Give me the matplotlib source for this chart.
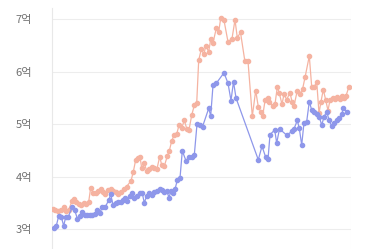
import matplotlib
matplotlib.use("Agg")
import matplotlib.pyplot as plt

# time index (relative position along the x axis) and prices in 억
orange_t = [1.3, 3.6, 6.3, 9, 12.3, 14.6, 17, 20.3, 22.3, 24.6, 27.3, 29.6, 32.3, 34.6, 37,
            39, 41.3, 44, 46.3, 49, 51.3, 53.6, 56.3, 59, 61.3, 64, 66.3, 69, 72.3, 75,
            79.3, 81.6, 84, 86, 88.3, 90, 92.6, 95, 97.3, 100, 102.6, 105.3, 108, 110, 112.6,
            115.6, 117.6, 120, 122.6, 125, 127.3, 130, 132.6, 135.3, 137.3, 140, 142.6, 145,
            147, 149.6, 152.3, 154, 157, 159, 161.3, 164.6, 167, 169, 172.3, 176.3, 180.3,
            183.3, 185.6, 188.8, 193.1, 196.3,
            200.6, 204, 206.6, 209, 211, 213.5, 215.8, 217.6, 221, 223.3, 225.6, 227.6, 230.3,
            232.3, 235, 238.3, 240.3, 242.3, 245.6, 248.3, 251, 253.3, 257.6, 260, 262.3, 265,
            267.3, 269.3, 271.6, 274, 276.3, 278.3, 281, 283.3, 285.6, 288.3, 290.3, 292.3,
            294.3, 297]
orange_v = [3.39, 3.37, 3.34, 3.36, 3.41, 3.34, 3.37, 3.53, 3.57, 3.52, 3.48, 3.46, 3.50, 3.48, 3.52,
            3.79, 3.68, 3.69, 3.73, 3.76, 3.71, 3.67, 3.74, 3.76, 3.72, 3.70, 3.67, 3.70, 3.76, 3.81,
            3.92, 4.09, 4.32, 4.35, 4.38, 4.16, 4.25, 4.11, 4.14, 4.18, 4.16, 4.15, 4.38, 4.22, 4.20,
            4.39, 4.49, 4.68, 4.80, 4.81, 4.98, 4.93, 5.07, 4.90, 4.89, 5.17, 5.36, 5.40,
            6.22, 6.43, 6.33, 6.50, 6.38, 6.62, 6.55, 6.83, 6.76, 7.02, 6.98, 6.57, 6.63, 6.99,
            6.65, 6.75, 6.21, 6.20,
            5.15, 5.64, 5.33, 5.24, 5.16, 5.47, 5.50, 5.43, 5.35, 5.38, 5.71, 5.59, 5.38, 5.57,
            5.47, 5.60, 5.43, 5.35, 5.64, 5.57, 5.68, 5.89, 6.30, 5.71, 5.70, 5.81, 5.21, 5.43,
            5.66, 5.46, 5.26, 5.46, 5.49, 5.48, 5.51, 5.48, 5.54, 5.49, 5.54, 5.70]

blue_t = [2.3, 4.6, 7, 9.6, 12, 14, 16.3, 20.3, 23, 25.6, 28, 30.6, 33, 35.6, 38, 40.3, 43, 45.6,
          48, 50.6, 53.6, 57, 59, 61.3, 64, 66.3, 69, 71.3, 73.3, 75.6, 78, 80.6, 82.6, 85.3, 88,
          90.6, 92.6, 95, 97.3, 100, 102.6, 105.3, 108, 110.6, 112.6, 115, 117.3, 119.3, 121.6,
          123.3, 125.6, 128.3, 130.6, 134.3, 137.3, 140, 142.6, 145.3, 147.8, 150.8, 157, 159,
          161.3, 164.6, 172.3, 176.3, 179.3, 181.8, 184.3,
          206.6, 210.3, 213.8, 216.3, 218.3, 223, 225, 227.8, 235, 240, 242.3, 245.6, 247.6, 250,
          252.3, 255, 257.6, 260, 262.3, 265, 267.6, 270, 272.3, 275, 277.3, 280, 282.3, 285,
          287.6, 290, 291.6, 295]
blue_v = [3.02, 3.06, 3.25, 3.23, 3.06, 3.23, 3.22, 3.41, 3.36, 3.20, 3.25, 3.33, 3.27, 3.27, 3.27,
          3.27, 3.28, 3.36, 3.31, 3.41, 3.42, 3.55, 3.66, 3.46, 3.49, 3.51, 3.52, 3.55, 3.60, 3.53,
          3.63, 3.69, 3.60, 3.63, 3.68, 3.68, 3.50, 3.63, 3.68, 3.65, 3.71, 3.73, 3.76, 3.74, 3.71,
          3.73, 3.60, 3.73, 3.68, 3.76, 3.93, 3.97, 4.49, 4.30, 4.38, 4.38, 4.41, 5.00, 4.98, 4.95,
          5.30, 5.16, 5.74, 5.78, 5.98, 5.78, 5.45, 5.81, 5.50,
          4.32, 4.58, 4.38, 4.33, 4.80, 4.89, 4.64, 4.91, 4.79, 4.86, 4.91, 5.07, 4.92, 4.60, 5.03,
          5.05, 5.43, 5.27, 5.24, 5.19, 5.14, 4.98, 5.14, 5.24, 5.08, 4.96, 5.02, 5.07, 5.11, 5.19,
          5.30, 5.24]

y_ticks = [3, 4, 5, 6, 7]
y_labels = ["3억", "4억", "5억", "6억", "7억"]

W, H = 384, 249
fig = plt.figure(figsize=(W / 100, H / 100), dpi=100)
ax = fig.add_axes([51.7 / W, 0, 299 / W, (H - 8.3) / H])

ax.plot(orange_t, orange_v, color="#F5B3A1", lw=0.9, marker="o", ms=3.0, zorder=3)
ax.plot(blue_t, blue_v, color="#8E97EA", lw=0.9, marker="o", ms=3.0, zorder=4)

ax.set_xlim(0, 299)
ax.set_ylim(3 - 20 / 52.4, 7 + 11 / 52.4)
ax.set_yticks(y_ticks)
ax.set_yticklabels(y_labels, family=["Noto Sans CJK KR", "DejaVu Sans"], fontsize=8,
                   color="#707070")
ax.tick_params(axis="y", length=0, pad=14)
ax.set_xticks([])
ax.grid(axis="y", color="#EDEDED", lw=0.8)
ax.axvline(299, color="#EDEDED", lw=0.8)
for s in ["top", "right", "bottom"]:
    ax.spines[s].set_visible(False)
ax.spines["left"].set_color("#E8E8E8")
ax.spines["left"].set_linewidth(0.8)

fig.savefig("out.png", dpi=100)
